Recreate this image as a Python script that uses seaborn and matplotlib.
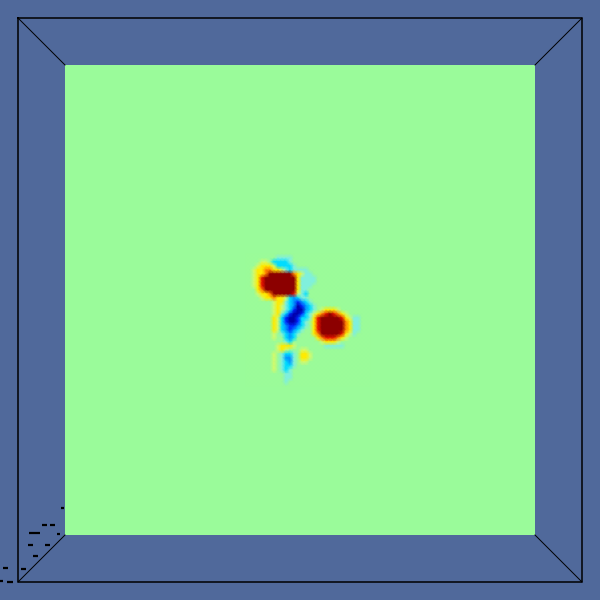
import numpy as np
import matplotlib
matplotlib.use("Agg")
import matplotlib.pyplot as plt
from matplotlib.colors import LinearSegmentedColormap
import seaborn as sns

# Slice of the field: one character per 4px cell
# (columns start at x=244, rows start at y=252 in the 600px picture)
level_codes = ['B', 'b', 'C', 'c', ',', '.', '-', 'y', 'o', 'r', 'R']
level_values = [-1.0, -0.75, -0.55, -0.35, -0.15, 0.0, 0.15, 0.35, 0.6, 0.8, 1.0]

field_rows = [
    "",
    "........,,,,",
    "....--.cccc,",
    "...-yyy-cccc,",
    "..-yyooyy-,c,,,,",
    "..-yyoRRRRRRoy-,,",
    "..-yrRRRRRRRRy,,,,",
    "..-yrRRRRRRRRy,,,,",
    "..-yrRRRRRRRRy,,,",
    "...yoRRRRRRRRy,,",
    "...-yyoRRRRRr-,c",
    "....-yyoyy-cCc,,",
    ".......-yy,cCbCc,",
    ".......-y-,cCBbCc,",
    ".......-y-,cbBBCc,.-yyy-",
    ".......-y,cbBBbc,-yorRroy-",
    ".......y-cbBBbcc,yrRRRRRry-,,",
    ".......y-cbBBbc,.yrRRRRRRoy,,",
    ".......y-cCbbCc,.yrRRRRRRoy,,",
    ".......y-cCbCc,..yrRRRRRRoy,,",
    ".......-.,cCc,...yoRRRRRry-,",
    ".......-..cCc.....yorrroy-",
    "..........,c.......-yyy-",
    "........-yyy-.......,,,,,",
    "........-y-...--",
    ".......-.,cc,.yy-",
    ".......-.,CC,.yy-",
    ".......-.,cC,.--",
    ".......-.,cc,",
    ".......-.,c,",
    "..........,,",
    "..........,,",
    "..........,",
    "",
]

cmap_values = [-1.0, -0.75, -0.55, -0.35, -0.15, 0.0, 0.15, 0.35, 0.6, 0.8, 1.0]
cmap_colors = ["#0000aa", "#0028ff", "#0096ff", "#00dcff", "#82f0dc", "#9afb9a",
               "#d2fa6e", "#ffeb00", "#ff8200", "#e61400", "#8c0000"]

bg_blue = "#50699b"
bg_green = "#9afb9a"

# %%
lookup = dict(zip(level_codes, level_values))
n_cols = 32
grid = np.array([[lookup[ch] for ch in row.ljust(n_cols, ".")] for row in field_rows])

jet_like = LinearSegmentedColormap.from_list(
    "jet_like", [((v + 1) / 2, c) for v, c in zip(cmap_values, cmap_colors)])

fig = plt.figure(figsize=(6, 6), dpi=100, facecolor=bg_blue)
ax = fig.add_axes([65 / 600, 65 / 600, 470 / 600, 470 / 600])
ax.set_facecolor(bg_green)

sns.heatmap(grid, ax=ax, cmap=jet_like, vmin=-1, vmax=1, cbar=False,
            xticklabels=False, yticklabels=False, shading="gouraud")

# nodes sit on cell centres: x = 246 + 4j, y = 254 + 4i
ax.set_xlim((65 - 246) / 4, (535 - 246) / 4)
ax.set_ylim((535 - 254) / 4, (65 - 254) / 4)
ax.set_xticks([])
ax.set_yticks([])
for s in ax.spines.values():
    s.set_visible(False)

# box outline of the 3D view
frame = fig.add_axes([0, 0, 1, 1], facecolor="none")
frame.set_xlim(0, 600)
frame.set_ylim(600, 0)
frame.axis("off")
frame.plot([18, 582, 582, 18, 18], [18, 18, 582, 582, 18], color="black", lw=1.1)
for (x0, y0), (x1, y1) in [((18, 18), (65, 65)), ((582, 18), (535, 65)),
                           ((582, 582), (535, 535)), ((18, 582), (65, 535))]:
    frame.plot([x0, x1], [y0, y1], color="black", lw=0.7)

# the little garbled orientation marks in the lower left corner
for (x0, x1, y) in [(42, 47, 525), (50, 55, 525), (29, 40, 533), (57, 60, 534),
                    (28, 33, 545), (45, 50, 545), (33, 38, 556), (3, 8, 568),
                    (21, 26, 569), (0, 3, 581), (7, 13, 582), (61, 64, 508)]:
    frame.plot([x0, x1], [y, y], color="black", lw=1.6, solid_capstyle="butt")

fig.savefig("out.png", dpi=100, facecolor=bg_blue)
